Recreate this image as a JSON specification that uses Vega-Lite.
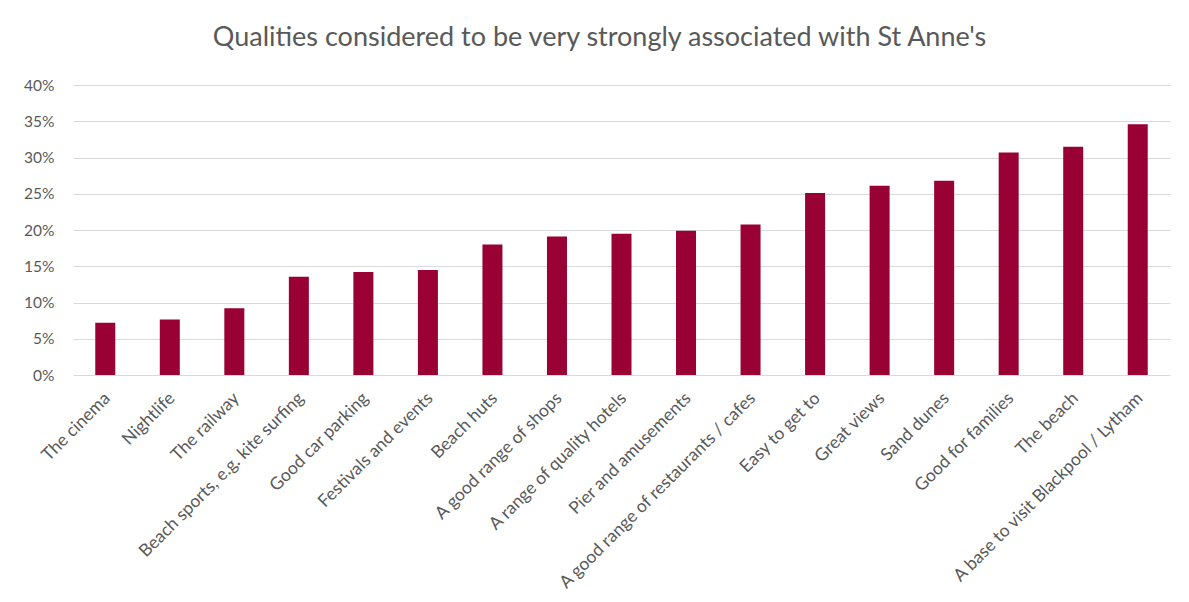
{
  "$schema": "https://vega.github.io/schema/vega-lite/v6.json",
  "width": 1097,
  "height": 290,
  "autosize": {"type": "none"},
  "padding": {"left": 73, "top": 85, "right": 19, "bottom": 227},
  "background": "white",
  "title": {
    "text": "Qualities considered to be very strongly associated with St Anne's",
    "font": "Lato",
    "fontSize": 27,
    "fontWeight": "normal",
    "color": "#595959",
    "anchor": "middle",
    "frame": "group",
    "baseline": "alphabetic",
    "offset": 5,
    "dx": -22
  },
  "data": {
    "values": [
      {"quality": "The cinema", "share": 0.072},
      {"quality": "Nightlife", "share": 0.0765},
      {"quality": "The railway", "share": 0.092},
      {"quality": "Beach sports, e.g. kite surfing", "share": 0.1355},
      {"quality": "Good car parking", "share": 0.142},
      {"quality": "Festivals and events", "share": 0.145},
      {"quality": "Beach huts", "share": 0.18},
      {"quality": "A good range of shops", "share": 0.191},
      {"quality": "A range of quality hotels", "share": 0.195},
      {"quality": "Pier and amusements", "share": 0.199},
      {"quality": "A good range of restaurants / cafes", "share": 0.2075},
      {"quality": "Easy to get to", "share": 0.251},
      {"quality": "Great views", "share": 0.261},
      {"quality": "Sand dunes", "share": 0.268},
      {"quality": "Good for families", "share": 0.307},
      {"quality": "The beach", "share": 0.315},
      {"quality": "A base to visit Blackpool / Lytham", "share": 0.346}
    ]
  },
  "mark": {"type": "bar", "color": "#990033"},
  "encoding": {
    "x": {
      "field": "quality",
      "type": "nominal",
      "sort": null,
      "scale": {"paddingInner": 0.69, "paddingOuter": 0.345},
      "axis": {
        "title": null,
        "labelAngle": -45,
        "labelFont": "Lato",
        "labelFontSize": 17.5,
        "labelColor": "#595959",
        "labelPadding": 14,
        "labelOffset": -4,
        "ticks": false,
        "domain": false,
        "labelLimit": 400
      }
    },
    "y": {
      "field": "share",
      "type": "quantitative",
      "scale": {"domain": [0, 0.4], "nice": false},
      "axis": {
        "title": null,
        "values": [0, 0.05, 0.1, 0.15, 0.2, 0.25, 0.3, 0.35, 0.4],
        "format": ".0%",
        "labelFont": "Lato",
        "labelFontSize": 15.5,
        "labelColor": "#595959",
        "labelPadding": 19,
        "ticks": false,
        "domain": false,
        "gridColor": "#D9D9D9",
        "gridWidth": 1
      }
    }
  },
  "config": {"view": {"stroke": null}}
}
